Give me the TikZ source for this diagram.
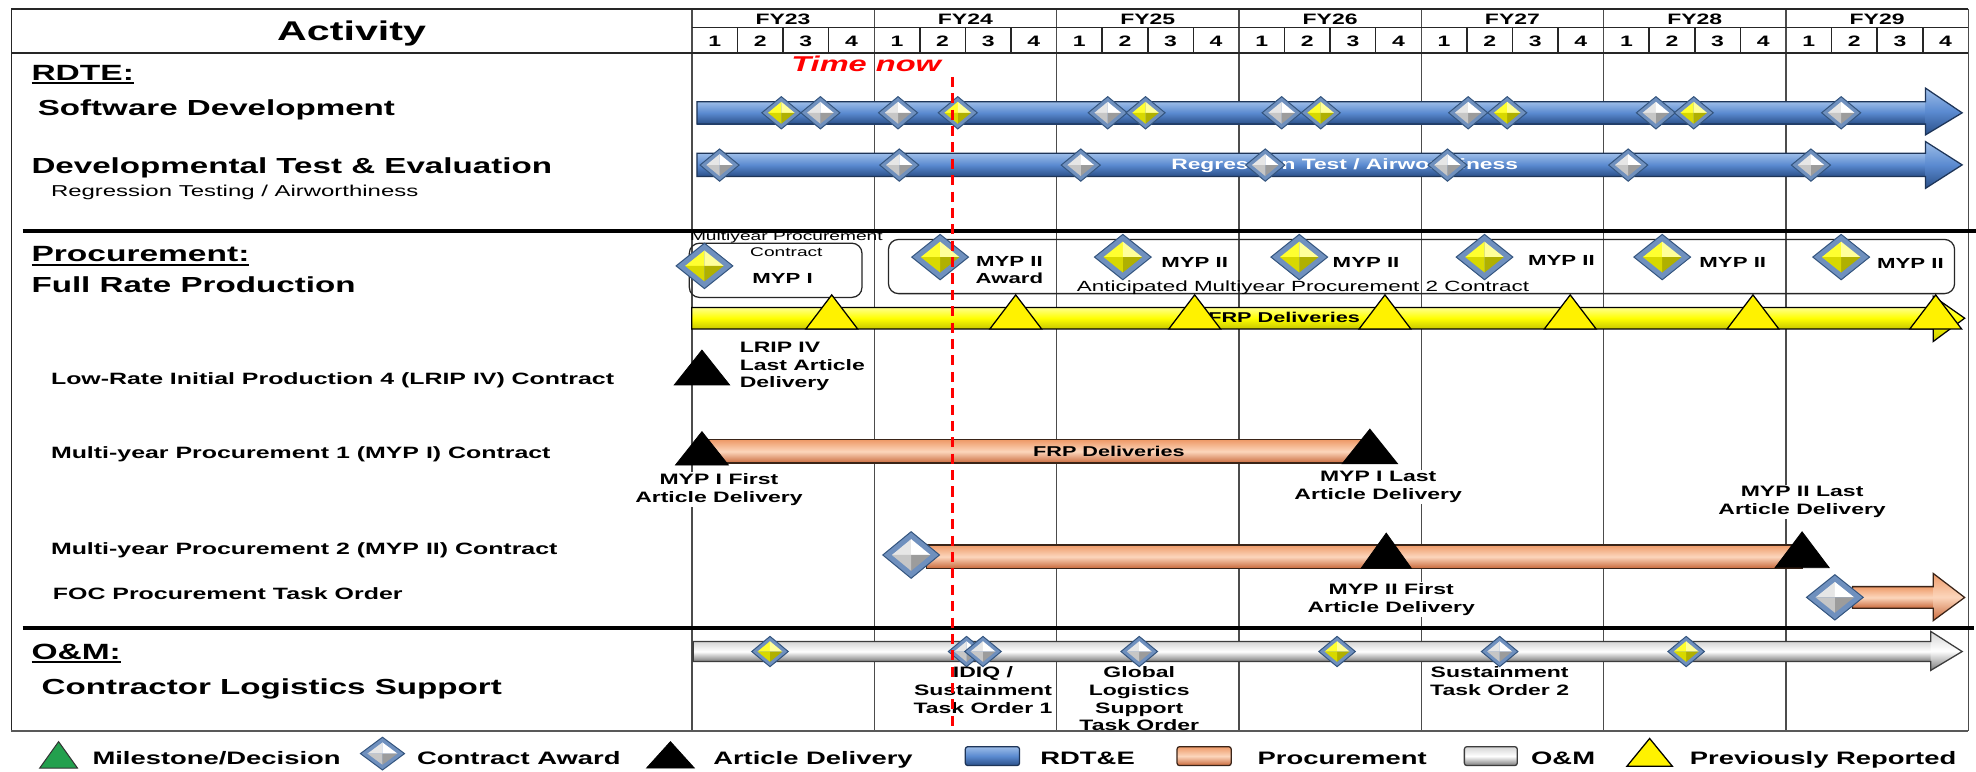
\documentclass[tikz,border=0pt]{standalone}
\usepackage{fontspec}
\setmainfont{Liberation Sans}[FakeStretch=1.52]
\newcommand\fsz[2]{\fontsize{#1}{#2}\selectfont}

\definecolor{bluT}{HTML}{9DBDE8}
\definecolor{bluM}{HTML}{5A8AD0}
\definecolor{bluB}{HTML}{2B5089}
\definecolor{bluE}{HTML}{1E3558}
\definecolor{orT}{HTML}{EE9A68}
\definecolor{orM}{HTML}{FCD6BC}
\definecolor{orB}{HTML}{C9693B}
\definecolor{orE}{HTML}{3A2418}
\definecolor{grT}{HTML}{D4D4D4}
\definecolor{grM}{HTML}{FFFFFF}
\definecolor{grB}{HTML}{7A7A7A}
\definecolor{grE}{HTML}{3C3C3C}
\definecolor{ylT}{HTML}{FFFF8C}
\definecolor{ylM}{HTML}{FFFF00}
\definecolor{ylB}{HTML}{C8C800}
\definecolor{gemfill}{HTML}{6F90BE}
\definecolor{gemline}{HTML}{34557F}
\definecolor{silvera}{HTML}{E6E6E6}
\definecolor{silverb}{HTML}{FFFFFF}
\definecolor{silverc}{HTML}{9C9C9C}
\definecolor{silverd}{HTML}{C6C6C6}
\definecolor{golda}{HTML}{FFFF30}
\definecolor{goldb}{HTML}{FFFF9A}
\definecolor{goldc}{HTML}{B0B000}
\definecolor{goldd}{HTML}{D8D800}
\definecolor{msgreen}{HTML}{23A04E}
\definecolor{nowred}{HTML}{FF0000}

% shaded bar with an arrow head: x0, head base, tip, bar top, bar bottom, head top, head bottom, fill, edge
\newcommand\barrow[9]{%
  \shade[#8] (#1,#4) rectangle (#2,#5);
  \shade[#8] (#2,#6) -- (#3,{(#4+#5)/2}) -- (#2,#7) -- cycle;
  \draw[#9] (#1,#4) -- (#2,#4) -- (#2,#6) -- (#3,{(#4+#5)/2}) -- (#2,#7) -- (#2,#5) -- (#1,#5) -- cycle;}
% plain shaded bar: x0, x1, top, bottom, fill, edge
\newcommand\plainbar[6]{%
  \shade[#5] (#1,#3) rectangle (#2,#4);
  \draw[#6] (#1,#3) rectangle (#2,#4);}
% bevelled diamond: x, y, half width, half height, facet set (silver|gold)
\newcommand\gem[5]{%
  \begin{scope}[shift={(#1,#2)}]
    \fill[gemfill] (-#3,0) -- (0,-#4) -- (#3,0) -- (0,#4) -- cycle;
    \fill[#5a] ({-0.68*#3},0) -- (0,{-0.68*#4}) -- (0,0) -- cycle;
    \fill[#5b] (0,{-0.68*#4}) -- ({0.68*#3},0) -- (0,0) -- cycle;
    \fill[#5c] ({0.68*#3},0) -- (0,{0.68*#4}) -- (0,0) -- cycle;
    \fill[#5d] (0,{0.68*#4}) -- ({-0.68*#3},0) -- (0,0) -- cycle;
    \draw[gemline,line width=0.8] (-#3,0) -- (0,-#4) -- (#3,0) -- (0,#4) -- cycle;
  \end{scope}}
% triangle: x, base y, half width, height, style
\newcommand\tri[5]{\filldraw[#5] ({#1-#3},#2) -- (#1,{#2-#4}) -- ({#1+#3},#2) -- cycle;}

\begin{document}
\begin{tikzpicture}[x=1pt,y=-1pt,
  txt/.style={inner sep=0pt,outer sep=0pt},
  head/.style={txt,anchor=base,font=\fsz{12}{14}\bfseries},
  big/.style={txt,anchor=base west,font=\fsz{17.3}{20}\bfseries},
  sect/.style={txt,anchor=base west,font=\fsz{17.5}{20}\bfseries},
  rowlbl/.style={txt,anchor=base west,font=\fsz{13}{15}\bfseries},
  note/.style={txt,anchor=north,align=center,font=\fsz{12}{14.2}\bfseries},
  notebg/.style={note,fill=white,inner sep=1pt},
  mypl/.style={txt,anchor=base,font=\fsz{11.6}{13.6}\bfseries},
  legend/.style={txt,anchor=base west,font=\fsz{14.3}{17}\bfseries},
  frameline/.style={draw=black!85,line width=1.2},
  gridline/.style={draw=black!70,line width=1.1},
  sepline/.style={draw=black,line width=3.2},
  boxr/.style={draw=black!85,line width=1,rounded corners=8pt},
  bluebar/.style={top color=bluT,bottom color=bluB,middle color=bluM},
  blueedge/.style={draw=bluE,line width=1},
  orbar/.style={top color=orT,bottom color=orB,middle color=orM},
  oredge/.style={draw=orE,line width=1},
  grbar/.style={top color=grT,bottom color=grB,middle color=grM},
  gredge/.style={draw=grE,line width=1},
  ylbar/.style={top color=ylT,bottom color=ylB,middle color=ylM},
  yledge/.style={draw=black,line width=1},
  blk/.style={fill=black,draw=black,line width=0.6},
  ylw/.style={fill=yellow,draw=black,line width=1},
  grn/.style={fill=msgreen,draw=black!80,line width=0.8},
  legbox/.style={rounded corners=2pt}]

\useasboundingbox (0,0) rectangle (1568,612);
\fill[white] (0,0) rectangle (1568,612);

% ---------- grid ----------
\foreach \k in {0,...,7} \draw[gridline] ({549+144.7*\k},7) -- ({549+144.7*\k},580);
\draw[frameline] (9,7) -- (1562,7);
\draw[frameline] (9,42) -- (1562,42);
\draw[frameline] (549,22) -- (1562,22);
\draw[frameline] (9,7) -- (9,580);
\draw[draw=black!65,line width=1.8] (9,580) -- (1562,580);
\foreach \k in {0,...,6} {
  \pgfmathsetmacro\xa{549+144.7*\k}
  \foreach \q in {1,2,3} \draw[frameline] ({\xa+36.175*\q},22) -- ({\xa+36.175*\q},42);
  \node[head] (fy\k) at ({\xa+72.35},19.8) {FY\the\numexpr23+\k\relax};
  \foreach \q in {1,...,4} \node[head] (q\k\q) at ({\xa+36.175*(\q-0.5)},37) {\q};
}
\node[txt,anchor=base,font=\fsz{21.5}{24}\bfseries] (activity) at (279,32.3) {Activity};

\draw[sepline] (18,183) -- (1568,183);
\draw[sepline] (18,498) -- (1566,498);

% ---------- activity column ----------
\node[sect] (rdte) at (25,63.5) {RDTE:};
\draw[line width=1.4] ([yshift=-2.6pt]rdte.base west) -- ([yshift=-2.6pt]rdte.base east);
\node[big] (swdev) at (30,91.3) {Software Development};
\node[big] (dte) at (25,137.5) {Developmental Test \& Evaluation};
\node[txt,anchor=base west,font=\fsz{12.5}{15}] (regr) at (40.5,156) {Regression Testing / Airworthiness};
\node[sect] (proc) at (25,207.6) {Procurement:};
\draw[line width=1.4] ([yshift=-2.6pt]proc.base west) -- ([yshift=-2.6pt]proc.base east);
\node[big] (frp) at (25,232) {Full Rate Production};
\node[rowlbl] (lrip) at (40.5,305.5) {Low-Rate Initial Production 4 (LRIP IV) Contract};
\node[rowlbl] (myp1) at (40.5,363.7) {Multi-year Procurement 1 (MYP I) Contract};
\node[rowlbl] (myp2) at (40.5,440) {Multi-year Procurement 2 (MYP II) Contract};
\node[rowlbl] (foc) at (42,476) {FOC Procurement Task Order};
\node[sect] (om) at (25,523) {O\&M:};
\draw[line width=1.4] ([yshift=-2.6pt]om.base west) -- ([yshift=-2.6pt]om.base east);
\node[big] (cls) at (33,551) {Contractor Logistics Support};

% ---------- RDT&E ----------
\barrow{553}{1528}{1557}{80.7}{98.4}{70}{107}{bluebar}{blueedge}
\barrow{553}{1528}{1557}{121.7}{140}{112.4}{149.4}{bluebar}{blueedge}
\node[txt,anchor=base,text=white,font=\fsz{11.9}{14}\bfseries] (regrbar) at (1067,134.4) {Regression Test / Airworthiness};
\foreach \x/\k in {620/gold,651/silver,712.6/silver,760/gold,879/silver,909/gold,1017/silver,1048/gold,1165/silver,1196/gold,1314/silver,1344/gold,1461/silver}
  {\gem{\x}{89.5}{15.5}{12.8}{\k}}
\foreach \x in {571,713.6,857.6,1004,1148.6,1292,1437}
  {\gem{\x}{131}{15.5}{12.8}{silver}}

% ---------- Procurement ----------
\draw[boxr] (547,193) rectangle (684,236);
\draw[boxr] (705,190) rectangle (1551,233);
\node[txt,anchor=north,align=center,font=\fsz{10}{12.7}] (mypc) at (624,183.7) {Multiyear Procurement\\Contract};
\node[mypl] (mypone) at (621,224.8) {MYP I};
\node[txt,anchor=base,font=\fsz{11.7}{14}] (antic) at (1034,231.4) {Anticipated Multiyear Procurement 2 Contract};
\gem{559}{211}{22.5}{18}{gold}
\foreach \x in {746,891,1031,1178,1319,1461} {\gem{\x}{204}{22.5}{18}{gold}}
\node[mypl,anchor=north,align=center] (award) at (801,203.5) {MYP II\\Award};
\node[mypl] (m2a) at (948,212) {MYP II};
\node[mypl] (m2b) at (1084,212) {MYP II};
\node[mypl] (m2c) at (1239,210.8) {MYP II};
\node[mypl] (m2d) at (1375,212) {MYP II};
\node[mypl] (m2e) at (1516,213) {MYP II};

\barrow{549}{1534}{1559}{244}{261}{235}{271}{ylbar}{yledge}
\node[txt,anchor=base,font=\fsz{11.3}{13}\bfseries] (frpy) at (1019,256) {FRP Deliveries};
\foreach \x in {660,806,948,1099,1246,1391,1536} {\tri{\x}{261}{20.5}{27}{ylw}}

\tri{557}{305.5}{22}{27.7}{blk}
\node[note,anchor=north west,align=left] (lripl) at (587,271.2) {LRIP IV\\Last Article\\Delivery};

\plainbar{558}{1086}{349}{367.5}{orbar}{oredge}
\node[txt,anchor=base,font=\fsz{11.3}{13}\bfseries] (frpo) at (880,362.4) {FRP Deliveries};
\tri{557}{369}{21}{26.5}{blk}
\tri{1087}{368}{22}{27.5}{blk}
\node[notebg] (m1f) at (570.5,374.7) {MYP I First\\Article Delivery};
\node[notebg] (m1l) at (1093.6,373.2) {MYP I Last\\Article Delivery};

\plainbar{735}{1430}{432.5}{451}{orbar}{oredge}
\gem{723}{440.4}{22.5}{18.5}{silver}
\tri{1100}{451}{20}{28}{blk}
\tri{1430}{450.5}{21.5}{28.5}{blk}
\node[notebg] (m2f) at (1104,462) {MYP II First\\Article Delivery};
\node[notebg] (m2l) at (1430,384.8) {MYP II Last\\Article Delivery};

\barrow{1470}{1534}{1559}{465.5}{482.7}{455}{492.5}{orbar}{oredge}
\gem{1456}{474}{22.5}{18}{silver}

% ---------- O&M ----------
\barrow{550}{1532}{1557}{509}{525}{501}{532}{grbar}{gredge}
\foreach \x/\k in {611/gold,767/silver,780/silver,904/silver,1061/gold,1190/silver,1338/gold}
  {\gem{\x}{517}{14.5}{12}{\k}}
\node[note] (idiq) at (780,528.7) {IDIQ /\\Sustainment\\Task Order 1};
\node[note] (gls) at (904,528.7) {Global\\Logistics\\Support\\Task Order};
\node[note] (sto) at (1190,529.2) {Sustainment\\Task Order 2};

% ---------- time now ----------
\draw[nowred,line width=2.4,dash pattern=on 8pt off 5pt] (756,61) -- (756,578);
\node[txt,anchor=base west,text=nowred,font=\fsz{17}{20}\bfseries\itshape] (tnow) at (628,56.9) {Time now};

% ---------- legend ----------
\tri{46.5}{609.5}{15}{21}{grn}
\node[legend] (lg1) at (73.4,607) {Milestone/Decision};
\gem{303.5}{598}{17.5}{13}{silver}
\node[legend] (lg2) at (331,607) {Contract Award};
\tri{532}{609.5}{19}{21}{blk}
\node[legend] (lg3) at (566,607) {Article Delivery};
\shade[bluebar,legbox] (766,592.5) rectangle (809,607.5);
\draw[blueedge,legbox] (766,592.5) rectangle (809,607.5);
\node[legend] (lg4) at (825.6,607) {RDT\&E};
\shade[orbar,legbox] (934,592.5) rectangle (977,607.5);
\draw[oredge,legbox] (934,592.5) rectangle (977,607.5);
\node[legend] (lg5) at (998,607) {Procurement};
\shade[grbar,legbox] (1162,592.5) rectangle (1204,607.5);
\draw[gredge,legbox] (1162,592.5) rectangle (1204,607.5);
\node[legend] (lg6) at (1215,607) {O\&M};
\tri{1309}{608}{18}{22}{ylw}
\node[legend] (lg7) at (1341,607) {Previously Reported};
\end{tikzpicture}
\end{document}
